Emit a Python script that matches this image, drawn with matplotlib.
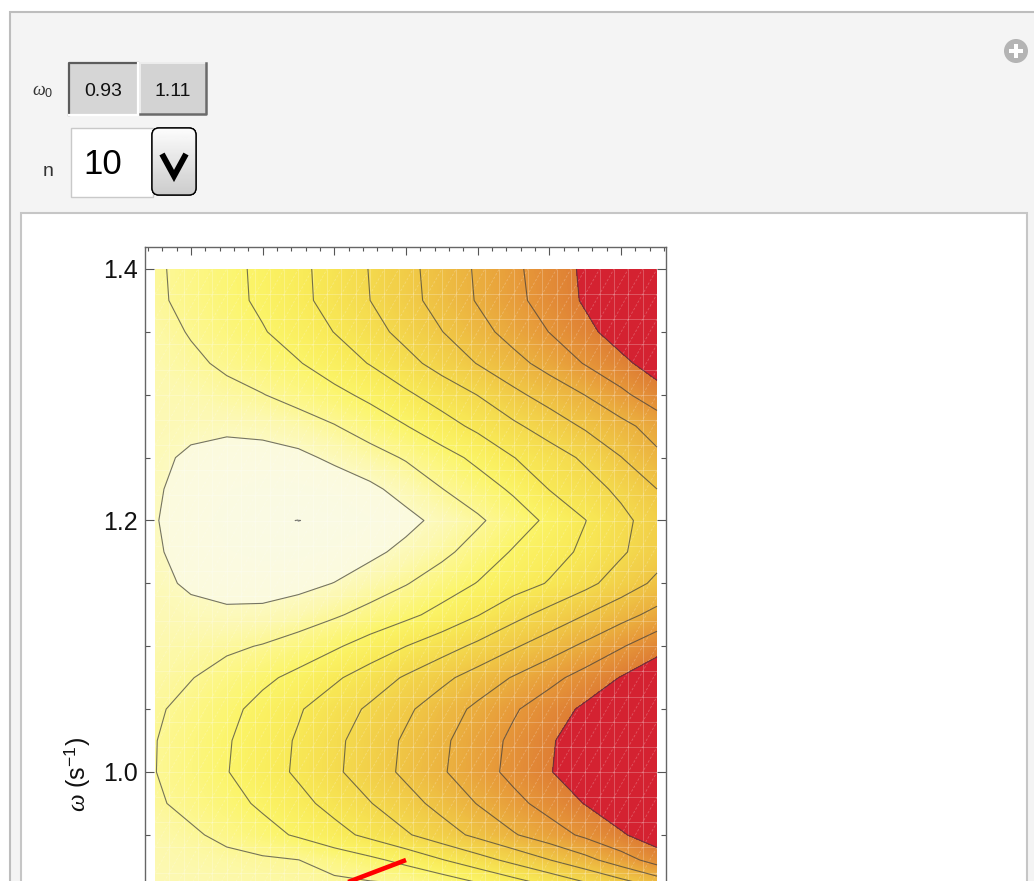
import numpy as np
import matplotlib
matplotlib.use('Agg')
import matplotlib.pyplot as plt
from matplotlib.patches import Rectangle, FancyBboxPatch, Circle
from matplotlib.collections import LineCollection
from matplotlib.ticker import FixedLocator, MultipleLocator, FormatStrFormatter

plt.rcParams['font.family'] = ['Liberation Sans', 'DejaVu Sans']
plt.rcParams['mathtext.fontset'] = 'custom'
plt.rcParams['mathtext.it'] = 'Liberation Serif:italic'
plt.rcParams['mathtext.rm'] = 'Liberation Sans'

# grid: omega rows (s^-1) and x columns (plot units)
omega_rows = [1.40, 1.375, 1.35, 1.325, 1.30, 1.275, 1.25, 1.225, 1.20, 1.175, 1.15,
              1.125, 1.10, 1.075, 1.05, 1.025, 1.00, 0.975, 0.95, 0.93, 0.91]
x_cols = [0.0, 0.5, 1.0, 1.5, 2.0, 2.5, 3.0, 3.5, 4.0, 4.5, 5.0, 5.5, 6.0, 6.5, 7.0]

# estimated contour value at each grid node (one list per omega row)
r1400 = [0.86, 1.29, 1.72, 2.21, 2.77, 3.39, 4.04, 4.73, 5.42, 6.12, 6.81, 7.48, 8.17, 8.87, 9.56]
r1375 = [0.83, 1.27, 1.70, 2.18, 2.74, 3.36, 4.00, 4.68, 5.37, 6.07, 6.74, 7.41, 8.12, 8.82, 9.50]
r1350 = [0.64, 1.07, 1.50, 1.93, 2.45, 3.02, 3.65, 4.30, 4.98, 5.67, 6.36, 7.02, 7.74, 8.46, 9.18]
r1325 = [0.53, 0.82, 1.16, 1.56, 1.94, 2.48, 3.05, 3.70, 4.36, 5.04, 5.69, 6.35, 7.06, 7.76, 8.47]
r1300 = [0.42, 0.50, 0.75, 0.97, 1.36, 1.75, 2.22, 2.84, 3.44, 4.02, 4.77, 5.41, 6.02, 6.77, 7.60]
r1275 = [0.30, 0.22, 0.18, 0.30, 0.55, 0.95, 1.46, 1.97, 2.60, 3.22, 3.82, 4.46, 5.13, 5.72, 6.40]
r1250 = [0.20, -0.15, -0.35, -0.38, -0.22, 0.18, 0.62, 1.09, 1.63, 2.23, 2.98, 3.54, 4.16, 4.98, 5.80]
r1225 = [0.10, -0.30, -0.58, -0.72, -0.70, -0.55, -0.20, 0.35, 0.98, 1.54, 2.15, 3.03, 3.59, 4.22, 5.00]
r1200 = [0.05, -0.42, -0.76, -0.95, -1.005, -0.92, -0.66, -0.27, 0.27, 0.85, 1.51, 2.20, 2.98, 3.74, 4.50]
r1175 = [0.10, -0.30, -0.58, -0.72, -0.70, -0.55, -0.22, 0.25, 0.77, 1.40, 2.09, 2.61, 3.19, 3.87, 4.60]
r1150 = [0.20, -0.12, -0.30, -0.35, -0.25, 0.02, 0.49, 0.95, 1.49, 2.04, 2.56, 3.07, 3.73, 4.47, 5.20]
r1125 = [0.35, 0.22, 0.15, 0.20, 0.45, 0.88, 1.32, 1.77, 2.31, 2.96, 3.68, 4.35, 5.00, 5.65, 6.30]
r1100 = [0.50, 0.65, 0.82, 1.06, 1.46, 1.87, 2.42, 3.00, 3.58, 4.21, 4.89, 5.53, 6.20, 6.92, 7.64]
r1075 = [0.68, 0.96, 1.40, 1.81, 2.24, 2.85, 3.47, 4.11, 4.76, 5.42, 6.07, 6.71, 7.38, 8.05, 8.70]
r1050 = [0.86, 1.31, 1.75, 2.29, 2.91, 3.53, 4.15, 4.83, 5.52, 6.21, 6.89, 7.53, 8.18, 8.84, 9.50]
r1025 = [0.97, 1.45, 1.91, 2.52, 3.10, 3.79, 4.45, 5.14, 5.83, 6.51, 7.20, 7.88, 8.57, 9.25, 9.93]
r1000 = [0.98, 1.48, 1.96, 2.55, 3.15, 3.83, 4.51, 5.20, 5.90, 6.58, 7.27, 7.94, 8.63, 9.30, 10.0]
r0975 = [0.86, 1.28, 1.69, 2.15, 2.71, 3.32, 3.96, 4.63, 5.32, 6.04, 6.72, 7.37, 8.04, 8.70, 9.35]
r0950 = [0.55, 0.84, 1.26, 1.68, 2.12, 2.66, 3.24, 3.89, 4.56, 5.23, 5.92, 6.54, 7.19, 7.88, 8.58]
r0930 = [0.45, 0.58, 0.72, 0.86, 0.99, 1.38, 1.78, 2.29, 2.95, 3.60, 4.28, 4.98, 5.70, 6.53, 7.43]
r0910 = [0.30, 0.42, 0.52, 0.60, 0.68, 0.76, 0.84, 0.93, 1.26, 1.82, 2.44, 3.08, 3.77, 4.47, 5.20]

line_levels = [-1, 0, 1, 2, 3, 4, 5, 6, 7, 8]

# colour ramp of the shading (cream inside the lowest contour), and the top band
shade_at = [-1.2, -0.01, 0.01, 0.5, 1, 2, 3, 4, 5, 6, 7, 8]
shade_rgb = [(250, 250, 229), (251, 250, 221), (252, 249, 192), (252, 248, 174),
             (252, 247, 148), (251, 244, 104), (248, 233, 86), (244, 217, 77),
             (240, 199, 69), (235, 177, 63), (230, 151, 57), (222, 126, 52)]
top_rgb = (212, 34, 49)

# red trajectory segment
red_x = [2.0, 3.5]
red_w = [0.8975, 0.930]

w0_choices = ['0.93', '1.11']
n_value = '10'

W, H = 1034, 881
fig = plt.figure(figsize=(W / 100, H / 100), dpi=100)
fig.patch.set_facecolor('white')

# ---- the Manipulate panel around the plot
bg = fig.add_axes([0, 0, 1, 1], zorder=0)
bg.set_xlim(0, W)
bg.set_ylim(H, 0)
bg.axis('off')

bg.add_patch(Rectangle((10, 12), 1040, 900, fc='#f4f4f4', ec='#bdbdbd', lw=1.5))
bg.add_patch(Rectangle((21, 213), 1006, 700, fc='white', ec='#c6c6c6', lw=1.5))

bg.add_patch(Circle((1016, 51), 12, fc='#b4b4b4', ec='none'))
bg.add_patch(Rectangle((1009, 48.8), 14, 4.4, fc='white', ec='none'))
bg.add_patch(Rectangle((1013.8, 44), 4.4, 14, fc='white', ec='none'))

bg.text(43, 92, r'$\omega_0$', fontsize=13, ha='center', va='center', color='#333333')

# setter bar: first button pressed
bg.add_patch(Rectangle((69, 63), 69, 52, fc='#d6d6d6', ec='none'))
bg.plot([69, 69, 138], [115, 63, 63], color='#5c5c5c', lw=1.6)
bg.plot([69, 138, 138], [115, 115, 63], color='white', lw=1.6)
bg.add_patch(Rectangle((140, 63), 66, 52, fc='#d3d3d3', ec='none'))
bg.plot([140, 140, 206], [115, 63, 63], color='#ededed', lw=1.4)
bg.plot([140, 206, 206], [114, 114, 63], color='#6a6a6a', lw=1.8)
bg.text(103.5, 91, w0_choices[0], fontsize=14, ha='center', va='center', color='#111111')
bg.text(173, 91, w0_choices[1], fontsize=14, ha='center', va='center', color='#111111')

bg.text(48, 171, 'n', fontsize=14, ha='center', va='center', color='#333333')
bg.add_patch(Rectangle((71, 128), 82, 69, fc='white', ec='#c9c9c9', lw=1))
bg.text(83, 165, n_value, fontsize=25, ha='left', va='center', color='black')

drop = FancyBboxPatch((152, 128), 44, 67, boxstyle='round,pad=0,rounding_size=7',
                      fc='#e2e2e2', ec='black', lw=1, zorder=2)
bg.add_patch(drop)
grad = bg.imshow(np.linspace(0.99, 0.80, 60).reshape(-1, 1), cmap='gray', vmin=0, vmax=1,
                 extent=[152, 196, 195, 128], aspect='auto', zorder=2.5)
grad.set_clip_path(drop)
bg.add_patch(FancyBboxPatch((152, 128), 44, 67, boxstyle='round,pad=0,rounding_size=7',
                            fc='none', ec='black', lw=1, zorder=3))
bg.plot([162, 174, 186], [154, 176, 154], color='black', lw=4.2,
        solid_joinstyle='miter', solid_capstyle='butt', zorder=4)

# ---- the contour plot
px_x = 502 / 7.0
px_w = 1257.5
w_top = 1.4 + 22 / px_w
bot_px = 960
w_bot = w_top - (bot_px - 247) / px_w

ax = fig.add_axes([145 / W, 1 - bot_px / H, 521 / W, (bot_px - 247) / H], zorder=1)
ax.set_facecolor('white')
ax.set_xlim(-10 / px_x, 511 / px_x)
ax.set_ylim(w_bot, w_top)

F = np.array([r1400, r1375, r1350, r1325, r1300, r1275, r1250, r1225, r1200, r1175, r1150,
              r1125, r1100, r1075, r1050, r1025, r1000, r0975, r0950, r0930, r0910])
X, Y = np.meshgrid(x_cols, omega_rows)

fill_levels = np.append(np.arange(-1.2, 8.0001, 0.05), 11.0)
mids = (fill_levels[:-1] + fill_levels[1:]) / 2
rgb = np.array(shade_rgb, dtype=float)
fill_colors = [tuple(np.interp(m, shade_at, rgb[:, i]) / 255 for i in range(3)) for m in mids[:-1]]
fill_colors.append(tuple(c / 255 for c in top_rgb))
ax.contourf(X, Y, F, levels=fill_levels, colors=fill_colors, antialiased=False)

# faint polygon mesh seen in the original rendering
w_min = min(omega_rows)
clip = Rectangle((0, w_min), 7, 1.4 - w_min, transform=ax.transData)
ax.vlines(np.arange(0.2, 7.0, 0.2), w_min, 1.4, colors='white', lw=0.7, alpha=0.24)
ax.hlines(np.arange(1.38, 0.9, -0.02), 0, 7, colors='white', lw=0.7, alpha=0.24)
segs = [[(0, c), (7, c + 0.7)] for c in np.arange(0.2, 1.42, 0.02)]
diag = LineCollection(segs, colors='white', lw=0.6, alpha=0.24, linestyles=(0, (3, 2)))
ax.add_collection(diag)
diag.set_clip_path(clip)

ax.contour(X, Y, F, levels=line_levels, colors='#3c3c3c', linewidths=0.8, alpha=0.7)

ax.plot(red_x, red_w, color='#ff0000', lw=3.3, solid_capstyle='butt', zorder=5)

for s in ax.spines.values():
    s.set_color('#666666')
    s.set_linewidth(1.0)

ax.xaxis.set_major_locator(FixedLocator(np.arange(0.5, 7.0, 1.0)))
ax.xaxis.set_minor_locator(FixedLocator(np.arange(-0.1, 7.2, 0.2)))
ax.yaxis.set_major_locator(MultipleLocator(0.2))
ax.yaxis.set_minor_locator(MultipleLocator(0.05))
ax.yaxis.set_major_formatter(FormatStrFormatter('%.1f'))
ax.tick_params(which='both', direction='in', top=True, right=True, bottom=True, left=True,
               color='#555555', width=0.8, labelbottom=False)
ax.tick_params(axis='x', which='major', length=5.5)
ax.tick_params(axis='x', which='minor', length=3)
ax.tick_params(axis='y', which='major', length=6.5, labelsize=18, pad=5, labelcolor='#111111')
ax.tick_params(axis='y', which='minor', length=3.5)

fig.text(77 / W, 1 - 774 / H, r'$\omega$ (s$^{-1}$)', rotation=90, ha='center', va='center',
         fontsize=18, color='#111111')

fig.savefig('out.png', dpi=100)
